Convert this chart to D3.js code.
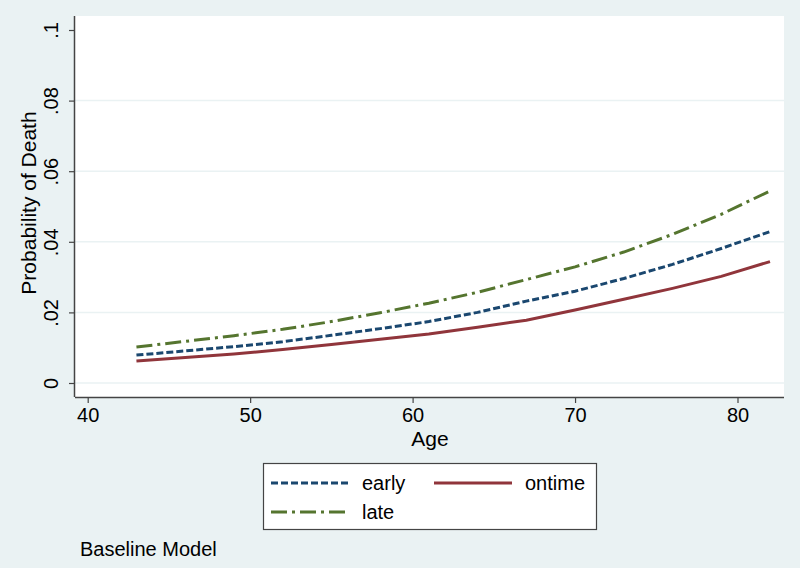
<!DOCTYPE html>
<html><head><meta charset="utf-8">
<script src="https://cdn.jsdelivr.net/npm/d3@7"></script>
<style>body{margin:0;background:#EAF2F3;}svg{display:block;font-family:"Liberation Sans",Arial,sans-serif;}</style>
</head><body>
<svg id="chart" width="800" height="568"></svg>
<script>
const ages = [43, 46, 49, 52, 55, 58, 61, 64, 67, 70, 73, 76, 79, 82];
const early = [0.0079, 0.0091, 0.0103, 0.0117, 0.0135, 0.0154, 0.0174, 0.0200, 0.0232, 0.0260, 0.0296, 0.0336, 0.0381, 0.0429];
const ontime = [0.0062, 0.0072, 0.0082, 0.0095, 0.0109, 0.0124, 0.0139, 0.0158, 0.0178, 0.0207, 0.0237, 0.0268, 0.0302, 0.0344];
const late = [0.0102, 0.0118, 0.0134, 0.0152, 0.0174, 0.0199, 0.0226, 0.0257, 0.0293, 0.0329, 0.0371, 0.0421, 0.0478, 0.0544];
const xTicks = [40, 50, 60, 70, 80];
const yTicks = [0, 0.02, 0.04, 0.06, 0.08, 0.1];
const yTickLabels = ["0", ".02", ".04", ".06", ".08", ".1"];
const seriesNames = ["early", "ontime", "late"];
const seriesData = [early, ontime, late];
const colors = ["#1A476F", "#90353B", "#55752F"];
const dashes = ["7,3", null, "16,5,3,5"];

const svg = d3.select("#chart");
svg.append("rect").attr("width", 800).attr("height", 568).attr("fill", "#EAF2F3");
const L = 75, R = 784, T = 16, B = 397;
const x = d3.scaleLinear().domain([40, 80]).range([87.7, 737.5]);
const y = d3.scaleLinear().domain([0, 0.1]).range([383, 30]);
const FS = 20;

svg.append("rect").attr("x", L).attr("y", T).attr("width", R - L).attr("height", B - T).attr("fill", "#fff");

// grid
svg.append("g").selectAll("line").data(yTicks.filter(d => d < 0.1)).join("line")
  .attr("x1", L).attr("x2", R).attr("y1", d => y(d)).attr("y2", d => y(d))
  .attr("stroke", "#EAF2F3").attr("stroke-width", 1.5);

// axes
const xAxis = svg.append("g").attr("transform", `translate(0,${B})`)
  .call(d3.axisBottom(x).tickValues(xTicks).tickSize(6).tickPadding(5).tickFormat(d3.format("d")));
xAxis.select(".domain").attr("d", `M${L},0.5H${R}`).attr("stroke", "#444").attr("stroke-width", 1.5);
xAxis.selectAll(".tick line").attr("stroke", "#444").attr("stroke-width", 1.2);
xAxis.selectAll(".tick text").attr("font-size", FS).attr("fill", "#000").attr("font-family", "Liberation Sans, Arial, sans-serif");

const yAxis = svg.append("g").attr("transform", `translate(${L},0)`)
  .call(d3.axisLeft(y).tickValues(yTicks).tickSize(6).tickFormat((d, i) => yTickLabels[i]));
yAxis.select(".domain").attr("d", `M-0.5,${T}V${B}`).attr("stroke", "#444").attr("stroke-width", 1.5);
yAxis.selectAll(".tick line").attr("stroke", "#444").attr("stroke-width", 1.2);
yAxis.selectAll(".tick text").attr("font-size", FS).attr("fill", "#000")
  .attr("font-family", "Liberation Sans, Arial, sans-serif")
  .attr("x", null).attr("dy", null)
  .attr("transform", "translate(-17,0) rotate(-90)")
  .attr("text-anchor", "middle").attr("y", 0);

// titles
svg.append("text").attr("transform", "translate(36,203) rotate(-90)").attr("text-anchor", "middle")
  .attr("font-size", 21).text("Probability of Death");
svg.append("text").attr("x", 430).attr("y", 446).attr("text-anchor", "middle").attr("font-size", 21).text("Age");

// lines
const line = d3.line().x(d => x(d[0])).y(d => y(d[1]));
seriesData.forEach((s, i) => {
  svg.append("path").datum(ages.map((a, j) => [a, s[j]]))
    .attr("d", line).attr("fill", "none").attr("stroke", colors[i]).attr("stroke-width", 3)
    .attr("stroke-dasharray", dashes[i]);
});

// legend
svg.append("rect").attr("x", 263.5).attr("y", 463.5).attr("width", 333).attr("height", 66)
  .attr("fill", "#fff").attr("stroke", "#444").attr("stroke-width", 1.2);
const legPos = [[271, 483], [434, 483], [271, 512]];
seriesNames.forEach((n, i) => {
  const [lx, ly] = legPos[i];
  svg.append("line").attr("x1", lx).attr("x2", lx + 78).attr("y1", ly).attr("y2", ly)
    .attr("stroke", colors[i]).attr("stroke-width", 3).attr("stroke-dasharray", dashes[i]);
  svg.append("text").attr("x", lx + 91).attr("y", ly + 7).attr("font-size", FS).text(n);
});

svg.append("text").attr("x", 80).attr("y", 556).attr("font-size", FS).text("Baseline Model");
</script>
</body></html>
